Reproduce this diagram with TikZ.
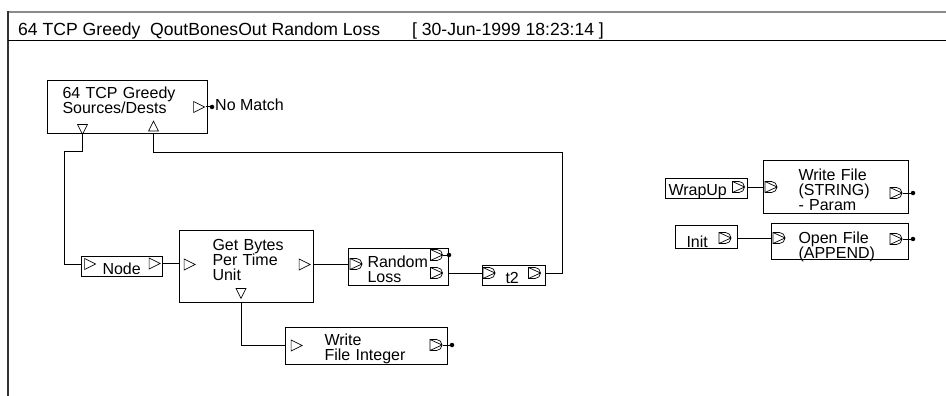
\documentclass[tikz,border=0pt]{standalone}
\usepackage{fontspec}
\setmainfont{Liberation Sans}
\usetikzlibrary{shapes.geometric,positioning,calc}
\definecolor{marco}{HTML}{8A8A8A}
\newcommand{\etq}{\fontsize{16pt}{15pt}\selectfont}
\newcommand{\cabecera}{\fontsize{17.6pt}{20pt}\selectfont}
\tikzset{
  bloque/.style={draw,line width=1pt,align=left,font=\etq,inner ysep=0pt,anchor=north west},
  cable/.style={line width=1pt},
  pto/.style={isosceles triangle,isosceles triangle stretches,draw,line width=0.7pt,inner sep=0pt,minimum width=11pt,minimum height=11pt},
  ptoab/.style={pto,shape border rotate=-90,minimum width=10pt,minimum height=10pt},
  ptoar/.style={pto,shape border rotate=90,minimum width=10pt,minimum height=10pt},
  ptod/.style={minimum width=13pt,minimum height=12pt,inner sep=0pt,
    path picture={\draw[line width=0.7pt,shift={(path picture bounding box.center)},x=1pt,y=1pt]
      (-6,5.5) -- (0.5,5.5) arc[start angle=90,end angle=-90,radius=5.5] -- (-6,-5.5) -- cycle
      (-6,5.5) -- (6,0) -- (-6,-5.5);}},
  punto/.style={circle,fill,inner sep=0pt,minimum size=4.5pt},
}
\begin{document}
\begin{tikzpicture}[x=1pt,y=-1pt]
  \useasboundingbox (0,0) rectangle (946,396);
  % marco y cabecera
  \draw[marco,line width=2pt] (946,12) -- (8,12);
  \draw[black!80,line width=1.6pt] (8,11) -- (8,396);
  \draw[line width=1pt] (8,41) -- (946,41);
  \node[font=\cabecera,anchor=base west,inner sep=0pt] (titulo) at (18,36) {64 TCP Greedy\ \ QoutBonesOut Random Loss\hspace{32pt}[ 30-Jun-1999 18:23:14 ]};

  % bloques
  \node[bloque,text width=130pt,inner xsep=15pt,text height=18.5pt,text depth=34.5pt] (fuentes) at (47,80) {64~TCP~Greedy\\Sources/Dests};
  \node[bloque,text width=68pt,inner xsep=33pt,text height=19.5pt,text depth=52.5pt] (bytes) at (179,230) {Get~Bytes\\Per~Time\\Unit};
  \node[bloque,text width=39pt,inner xsep=21pt,text height=18pt,text depth=2pt,left=16pt of bytes] (nodo) {Node};
  \node[bloque,text width=62pt,inner xsep=19pt,text height=19pt,text depth=18pt,right=34pt of bytes] (perdida) {Random\\Loss};
  \node[bloque,text width=17pt,inner xsep=23pt,text height=18.3pt,text depth=1.7pt,right=33pt of perdida.south east,anchor=south west] (tdos) {t2};
  \node[bloque,text width=84pt,inner xsep=39pt,text height=18pt,text depth=19pt] (escint) at (285,327) {Write\\File~Integer};
  \node[bloque,text width=75pt,inner xsep=35pt,text height=20pt,text depth=33pt] (escstr) at (763,160) {Write~File\\(STRING)\\-~Param};
  \node[bloque,text width=76pt,inner xsep=3pt,text height=16.5pt,text depth=3.5pt] (wrapup) at (665,178) {WrapUp};
  \node[bloque,text width=83pt,inner xsep=27pt,text height=19.5pt,text depth=16.5pt,below=9pt of escstr.south east,anchor=north east] (abrir) {Open~File\\(APPEND)};
  \node[bloque,text width=40pt,inner xsep=11pt,text height=21.7pt,text depth=1.3pt] (init) at (675,225) {Init};

  % puertos
  \node[pto] (fuentes-o) at (197,107) {};
  \node[ptoab] (fuentes-a) at (82.5,127.5) {};
  \node[ptoar] (fuentes-b) at (153.5,128) {};
  \node[pto] (nodo-i) at (88,264) {};
  \node[pto] (nodo-o) at (152.5,263.5) {};
  \node[pto] (bytes-i) at (187.5,264.5) {};
  \node[pto] (bytes-o) at (302.5,264.5) {};
  \node[ptoab] (bytes-a) at (241,291.5) {};
  \node[ptod] (perdida-i) at (356,264) {};
  \node[ptod] (perdida-o1) at (436.5,255) {};
  \node[ptod] (perdida-o2) at (436.5,273) {};
  \node[ptod] (tdos-i) at (489,273) {};
  \node[ptod] (tdos-o) at (534.5,273) {};
  \node[pto] (escint-i) at (294.5,345.5) {};
  \node[ptod] (escint-o) at (436,345) {};
  \node[ptod] (wrapup-o) at (738.5,187) {};
  \node[ptod] (escstr-i) at (771,187) {};
  \node[ptod] (escstr-o) at (896,193) {};
  \node[ptod] (init-o) at (725,238) {};
  \node[ptod] (abrir-i) at (779,238) {};
  \node[ptod] (abrir-o) at (896,239) {};

  % salidas sin conectar
  \node[punto] (p1) at (212,107) {};
  \node[punto] (p2) at (449,255) {};
  \node[punto] (p3) at (452,345) {};
  \node[punto] (p4) at (913,193) {};
  \node[punto] (p5) at (913,239) {};
  \node[font=\etq,anchor=base west,inner sep=0pt] (nomatch) at (215,110.5) {No Match};
  \draw[cable] (fuentes-o.apex) -- (p1);
  \draw[cable] (perdida-o1.east) -- (p2);
  \draw[cable] (escint-o.east) -- (p3);
  \draw[cable] (escstr-o.east) -- (p4);
  \draw[cable] (abrir-o.east) -- (p5);

  % conexiones
  \draw[cable] (fuentes.south -| fuentes-a) -- ++(0,17) -- ++(-18,0) |- (nodo.west |- nodo-i);
  \draw[cable] (nodo.east |- nodo-o) -- (bytes.west |- nodo-o);
  \draw[cable] (bytes.east |- bytes-o) -- (perdida.west |- bytes-o);
  \draw[cable] (perdida.east |- perdida-o2) -- (tdos.west |- perdida-o2);
  \draw[cable] (tdos.east |- tdos-o) -- ++(16,0) |- ($(fuentes.south -| fuentes-b)+(0,18)$) -- (fuentes.south -| fuentes-b);
  \draw[cable] (bytes.south -| bytes-a) |- (escint.west |- escint-i);
  \draw[cable] (wrapup.east |- wrapup-o) -- (escstr.west |- wrapup-o);
  \draw[cable] (init.east |- init-o) -- (abrir.west |- init-o);
\end{tikzpicture}
\end{document}
